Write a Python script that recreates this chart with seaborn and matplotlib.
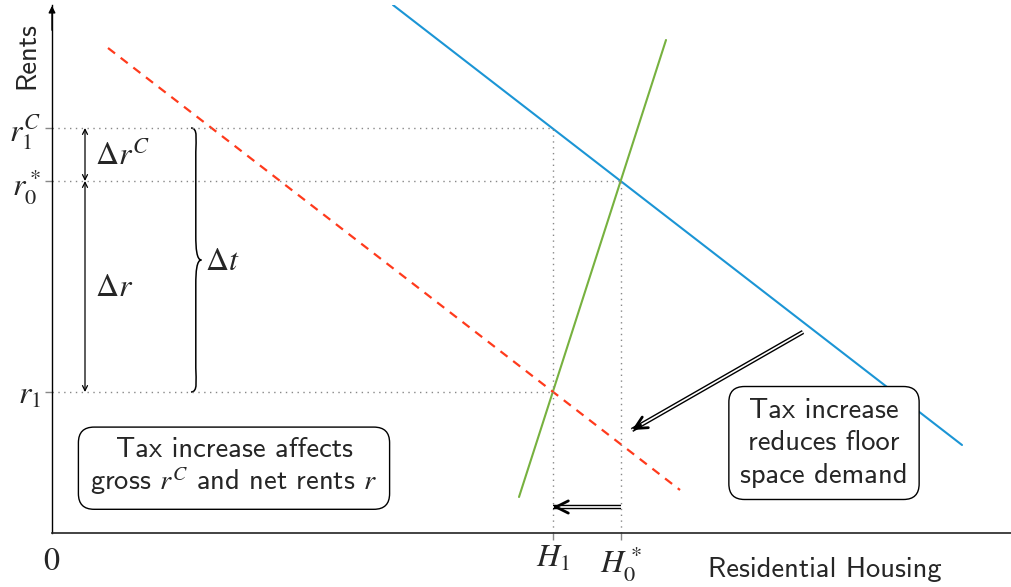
import matplotlib
matplotlib.use("Agg")
import matplotlib.pyplot as plt
import seaborn as sns
import numpy as np
import pandas as pd
from matplotlib.path import Path
from matplotlib.patches import PathPatch

# ---- data (arbitrary units) ----
demand_x = [3.41, 9.10]
demand_y = [5.28, 0.88]
supply_x = [4.67, 6.14]
supply_y = [0.36, 4.93]
taxed_x = [0.56, 6.28]
taxed_y = [4.85, 0.43]

rent_ticks = [1.41, 3.52, 4.05]
rent_labels = [r"$r_1$", r"$r_0^*$", r"$r_1^C$"]
housing_ticks = [5.01, 5.69]
housing_labels = [r"$H_1$", r"$H_0^*$"]

shift_arrow_x = [7.51, 5.80]
shift_arrow_y = [2.01, 1.03]
housing_arrow_x = [5.69, 5.01]
housing_arrow_y = [0.26, 0.26]

box1_text = "Tax increase affects\ngross $r^C$ and net rents $r$"
box2_text = "Tax increase\nreduces floor\nspace demand"

sns.set_style("white")
plt.rcParams["font.family"] = ["cmss10", "DejaVu Sans"]
plt.rcParams["mathtext.fontset"] = "stix"
plt.rcParams["axes.unicode_minus"] = False

W, H = 1011, 587
fig = plt.figure(figsize=(W / 100, H / 100), dpi=100)
ax = fig.add_axes([52 / W, 54 / H, 959 / W, 528 / H])
ax.set_xlim(0, 9.59)
ax.set_ylim(0, 5.28)

BLUE = "#1b95d5"
GREEN = "#77b13f"
RED = "#ff3a1c"
TXT = 20.5
MATH = 23

df_d = pd.DataFrame({"x": demand_x, "y": demand_y})
df_s = pd.DataFrame({"x": supply_x, "y": supply_y})
df_t = pd.DataFrame({"x": taxed_x, "y": taxed_y})
sns.lineplot(data=df_d, x="x", y="y", ax=ax, color=BLUE, lw=1.5, sort=False)
sns.lineplot(data=df_s, x="x", y="y", ax=ax, color=GREEN, lw=1.5, sort=False)
sns.lineplot(data=df_t, x="x", y="y", ax=ax, color=RED, lw=1.6, sort=False,
             linestyle=(0, (4, 3.2)))

# dotted guides
dot = dict(color="#888888", lw=1.0, linestyle=(0, (1, 3.2)))
r1, r0, r1c = rent_ticks
h1, h0 = housing_ticks
ax.plot([0, h1], [r1c, r1c], **dot)
ax.plot([h1, h1], [0, r1c], **dot)
ax.plot([0, h0], [r0, r0], **dot)
ax.plot([h0, h0], [0, r0], **dot)
ax.plot([0, h1], [r1, r1], **dot)

# axes
for s in ["top", "right"]:
    ax.spines[s].set_visible(False)
ax.spines["left"].set_color("black")
ax.spines["bottom"].set_color("#222222")
ax.spines["left"].set_linewidth(1.0)
ax.spines["bottom"].set_linewidth(1.2)
ax.annotate("", xy=(0, 5.30), xytext=(0, 5.0),
            arrowprops=dict(arrowstyle="-|>", lw=1.0, color="black",
                            mutation_scale=10), annotation_clip=False)

ax.set_yticks(rent_ticks)
ax.set_yticklabels(rent_labels, fontsize=MATH)
ax.set_xticks(housing_ticks)
ax.set_xticklabels(housing_labels, fontsize=MATH)
ax.tick_params(axis="both", length=5, color="#888888", width=1, pad=3,
               left=True, bottom=True)
ax.set_xlabel("")
ax.set_ylabel("")

ax.text(-0.25, 4.77, "Rents", rotation=90, fontsize=TXT, ha="center",
        va="center", clip_on=False)
ax.text(7.73, -0.37, "Residential Housing", fontsize=TXT, ha="center",
        va="center", clip_on=False)
ax.text(0, -0.29, "$0$", fontsize=MATH, ha="center", va="center")

# delta arrows
ax.annotate("", xy=(0.33, r1c), xytext=(0.33, r0),
            arrowprops=dict(arrowstyle="<->", lw=0.9, color="black",
                            shrinkA=0, shrinkB=0, mutation_scale=9))
ax.annotate("", xy=(0.33, r0), xytext=(0.33, r1),
            arrowprops=dict(arrowstyle="<->", lw=0.9, color="black",
                            shrinkA=0, shrinkB=0, mutation_scale=9))
ax.text(0.43, 3.78, r"$\Delta r^C$", fontsize=MATH, ha="left", va="center")
ax.text(0.43, 2.45, r"$\Delta r$", fontsize=MATH, ha="left", va="center")

# brace
bx, bw = 1.39, 0.08
top, bot = r1c, r1
mid = (top + bot) / 2
c = 0.12
verts = [
    (bx, top), (bx + bw * 0.9, top), (bx + bw * 0.6, top - c), (bx + bw * 0.6, top - 2 * c),
    (bx + bw * 0.6, mid + 2 * c),
    (bx + bw * 0.6, mid + c), (bx + bw * 0.7, mid), (bx + bw * 1.3, mid),
    (bx + bw * 0.7, mid), (bx + bw * 0.6, mid - c), (bx + bw * 0.6, mid - 2 * c),
    (bx + bw * 0.6, bot + 2 * c),
    (bx + bw * 0.6, bot + c), (bx + bw * 0.9, bot), (bx, bot),
]
codes = [Path.MOVETO, Path.CURVE4, Path.CURVE4, Path.CURVE4,
         Path.LINETO,
         Path.CURVE4, Path.CURVE4, Path.CURVE4,
         Path.CURVE4, Path.CURVE4, Path.CURVE4,
         Path.LINETO,
         Path.CURVE4, Path.CURVE4, Path.CURVE4]
ax.add_patch(PathPatch(Path(verts, codes), fill=False, lw=1.1, color="black"))
ax.text(1.53, 2.72, r"$\Delta t$", fontsize=MATH, ha="left", va="center")


def double_arrow(xs, ys):
    x0, x1 = xs
    y0, y1 = ys
    ax.plot([x0, x1], [y0, y1], color="black", lw=3.2, solid_capstyle="butt")
    ax.plot([x0, x1], [y0, y1], color="white", lw=1.2, solid_capstyle="butt")
    dx, dy = x1 - x0, y1 - y0
    ax.annotate("", xy=(x1, y1), xytext=(x1 - dx * 0.05, y1 - dy * 0.05),
                arrowprops=dict(arrowstyle="->", lw=2.0, color="black",
                                shrinkA=0, shrinkB=0, mutation_scale=22))


double_arrow(shift_arrow_x, shift_arrow_y)
double_arrow(housing_arrow_x, housing_arrow_y)

bbox1 = dict(boxstyle="round,pad=0.42,rounding_size=0.55", fc="white",
             ec="black", lw=1.0)
bbox2 = dict(boxstyle="round,pad=0.4,rounding_size=0.55", fc="white",
             ec="black", lw=1.0)
ax.text(1.82, 0.66, box1_text, fontsize=TXT, ha="center", va="center",
        multialignment="center", bbox=bbox1, linespacing=1.15)
ax.text(7.72, 0.90, box2_text, fontsize=TXT, ha="center", va="center",
        multialignment="center", bbox=bbox2, linespacing=1.38)

fig.savefig("out.png", dpi=100)
